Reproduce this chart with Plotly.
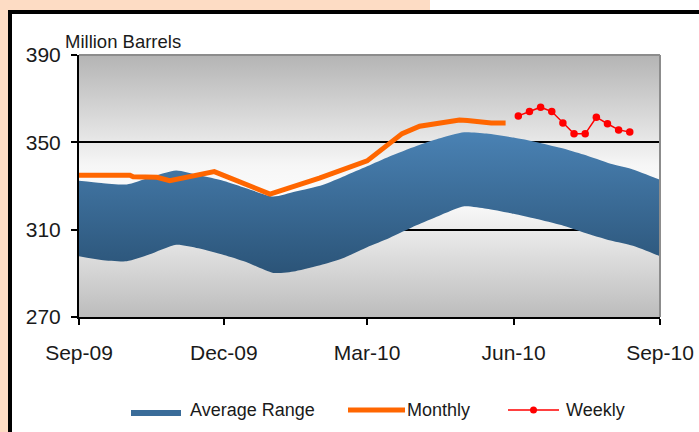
import base64
import plotly.graph_objects as go

# ---------------- data ----------------
band_dates = ["2009-09-01", "2009-09-15", "2009-10-01", "2009-10-15", "2009-11-01",
              "2009-11-15", "2009-12-01", "2009-12-15", "2010-01-01", "2010-01-15",
              "2010-02-01", "2010-02-15", "2010-03-01", "2010-03-15", "2010-04-01",
              "2010-04-15", "2010-05-01", "2010-05-15", "2010-06-01", "2010-06-15",
              "2010-07-01", "2010-07-15", "2010-08-01", "2010-08-15", "2010-09-01"]
band_upper = [332.4, 331.4, 330.7, 333.8, 337.1, 335.0, 332.3, 329.0, 325.2, 327.5,
              330.5, 334.6, 339.0, 343.5, 348.3, 351.7, 354.6, 354.0, 352.2, 350.2,
              347.4, 344.4, 340.2, 337.6, 332.9]
band_lower = [297.8, 296.1, 295.5, 298.6, 303.1, 301.5, 298.4, 295.2, 290.2, 291.0,
              294.0, 297.3, 302.0, 306.2, 312.0, 316.3, 320.7, 319.6, 317.3, 315.0,
              312.1, 308.7, 305.0, 302.6, 297.8]

monthly_dates = ["2009-09-01", "2009-10-03", "2009-10-05", "2009-10-20", "2009-10-28",
                 "2009-11-25", "2009-12-30", "2010-01-30", "2010-03-01", "2010-03-23",
                 "2010-04-03", "2010-04-28", "2010-05-03", "2010-05-18", "2010-05-27"]
monthly_values = [334.9, 334.9, 334.2, 334.0, 332.4, 336.6, 326.3, 333.6, 341.5, 354.0,
                  357.4, 360.2, 360.0, 358.9, 358.9]

weekly_dates = ["2010-06-04", "2010-06-11", "2010-06-18", "2010-06-25", "2010-07-02",
                "2010-07-09", "2010-07-16", "2010-07-23", "2010-07-30", "2010-08-06",
                "2010-08-13"]
weekly_values = [362.1, 364.1, 366.1, 364.1, 358.8, 353.9, 353.9, 361.5, 358.5, 355.7, 354.7]

x_tick_vals = ["2009-09-01", "2009-12-01", "2010-03-01", "2010-06-01", "2010-09-01"]
x_tick_text = ["Sep-09", "Dec-09", "Mar-10", "Jun-10", "Sep-10"]
y_tick_vals = [270, 310, 350, 390]

# ---------------- layout constants ----------------
W, H = 699, 432
L, R, T, B = 79, 39, 55, 115
PW, PH = W - L - R, H - T - B
FONT = "Arial, 'Liberation Sans', sans-serif"
TXT = "#1a1a1a"


def fx(p):
    return (p - L) / PW


def fy(p):
    return (H - B - p) / PH


fig = go.Figure()

# Average range band
fig.add_trace(go.Scatter(x=band_dates, y=band_lower, mode="lines",
                         line=dict(width=0, shape="spline", smoothing=0.6),
                         hoverinfo="skip", showlegend=False))
fig.add_trace(go.Scatter(x=band_dates, y=band_upper, mode="lines", name="Average Range",
                         line=dict(width=0, shape="spline", smoothing=0.6),
                         fill="tonexty",
                         fillgradient=dict(type="vertical", start=290, stop=355,
                                           colorscale=[[0, "#2b5478"], [1, "#4a82b4"]]),
                         showlegend=False))
# Monthly
fig.add_trace(go.Scatter(x=monthly_dates, y=monthly_values, mode="lines", name="Monthly",
                         line=dict(color="#ff6600", width=5), showlegend=False))
# Weekly
fig.add_trace(go.Scatter(x=weekly_dates, y=weekly_values, mode="lines+markers", name="Weekly",
                         line=dict(color="#ff0000", width=1.5),
                         marker=dict(color="#ff0000", size=7.5, symbol="circle"),
                         showlegend=False))

# gradient background for plot area
svg = ("<svg xmlns='http://www.w3.org/2000/svg' width='100' height='100' viewBox='0 0 100 100' "
       "preserveAspectRatio='none'><defs><linearGradient id='g' x1='0' y1='0' x2='0' y2='1'>"
       "<stop offset='0' stop-color='#b4b4b4'/><stop offset='0.42' stop-color='#f6f6f6'/>"
       "<stop offset='0.55' stop-color='#fcfcfc'/><stop offset='1' stop-color='#bcbcbc'/>"
       "</linearGradient></defs><rect width='100' height='100' fill='url(#g)'/></svg>")
src = "data:image/svg+xml;base64," + base64.b64encode(svg.encode()).decode()

shapes = []
# outer decoration: peach strips and black frame
shapes.append(dict(type="rect", xref="paper", yref="paper", x0=fx(0), x1=fx(8), y0=fy(H), y1=fy(0),
                   fillcolor="#fddcc4", line=dict(width=0), layer="below"))
shapes.append(dict(type="rect", xref="paper", yref="paper", x0=fx(0), x1=fx(430), y0=fy(10), y1=fy(0),
                   fillcolor="#fddcc4", line=dict(width=0), layer="below"))
shapes.append(dict(type="rect", xref="paper", yref="paper", x0=fx(8), x1=fx(12), y0=fy(H), y1=fy(10),
                   fillcolor="#000000", line=dict(width=0)))
shapes.append(dict(type="rect", xref="paper", yref="paper", x0=fx(8), x1=fx(W), y0=fy(14), y1=fy(10),
                   fillcolor="#000000", line=dict(width=0)))
# gray top/right border of plot area
shapes.append(dict(type="line", xref="paper", yref="paper", x0=0, x1=1, y0=1, y1=1,
                   line=dict(color="#8c8c8c", width=2)))
shapes.append(dict(type="line", xref="paper", yref="paper", x0=1, x1=1, y0=0, y1=1,
                   line=dict(color="#8c8c8c", width=2)))

# manual legend
LY = 410
shapes.append(dict(type="rect", xref="paper", yref="paper", x0=fx(131), x1=fx(181), y0=fy(416), y1=fy(410),
                   fillcolor="#3a6c99", line=dict(width=0)))
shapes.append(dict(type="line", xref="paper", yref="paper", x0=fx(348), x1=fx(405), y0=fy(LY), y1=fy(LY),
                   line=dict(color="#ff6600", width=5)))
shapes.append(dict(type="line", xref="paper", yref="paper", x0=fx(508), x1=fx(559), y0=fy(LY), y1=fy(LY),
                   line=dict(color="#ff0000", width=1.5)))
shapes.append(dict(type="circle", xref="paper", yref="paper", x0=fx(530), x1=fx(537), y0=fy(LY + 3.5),
                   y1=fy(LY - 3.5), fillcolor="#ff0000", line=dict(width=0)))

annotations = [
    dict(text="Million Barrels", xref="paper", yref="paper", x=fx(63), y=fy(42), xanchor="left",
         yanchor="middle", showarrow=False, font=dict(family=FONT, size=18.5, color=TXT)),
    dict(text="Average Range", xref="paper", yref="paper", x=fx(188), y=fy(LY), xanchor="left",
         yanchor="middle", showarrow=False, font=dict(family=FONT, size=18, color=TXT)),
    dict(text="Monthly", xref="paper", yref="paper", x=fx(405), y=fy(LY), xanchor="left",
         yanchor="middle", showarrow=False, font=dict(family=FONT, size=18, color=TXT)),
    dict(text="Weekly", xref="paper", yref="paper", x=fx(564), y=fy(LY), xanchor="left",
         yanchor="middle", showarrow=False, font=dict(family=FONT, size=18, color=TXT)),
]

fig.update_layout(
    width=W, height=H,
    margin=dict(l=L, r=R, t=T, b=B, autoexpand=False),
    paper_bgcolor="white",
    plot_bgcolor="rgba(0,0,0,0)",
    showlegend=False,
    font=dict(family=FONT, size=21, color=TXT),
    images=[dict(source=src, xref="paper", yref="paper", x=0, y=1, sizex=1, sizey=1,
                 xanchor="left", yanchor="top", sizing="stretch", layer="below")],
    shapes=shapes,
    annotations=annotations,
    xaxis=dict(type="date", range=["2009-09-01", "2010-09-01"], tickvals=x_tick_vals,
               ticktext=x_tick_text, showgrid=False, zeroline=False,
               showline=True, linecolor="#000000", linewidth=2,
               ticks="outside", ticklen=6, tickwidth=1.5, tickcolor="#000000",
               tickfont=dict(family=FONT, size=21, color=TXT), ticklabelstandoff=10),
    yaxis=dict(range=[270, 390], tickvals=y_tick_vals, showgrid=True, gridcolor="#000000",
               gridwidth=1.5, zeroline=False,
               showline=True, linecolor="#000000", linewidth=2,
               ticks="outside", ticklen=6, tickwidth=1.5, tickcolor="#000000",
               tickfont=dict(family=FONT, size=21, color=TXT), ticklabelstandoff=6),
)

fig.write_html("out.html", config={"displayModeBar": False},
               post_script="document.body.style.margin='0';document.body.style.padding='0';")
